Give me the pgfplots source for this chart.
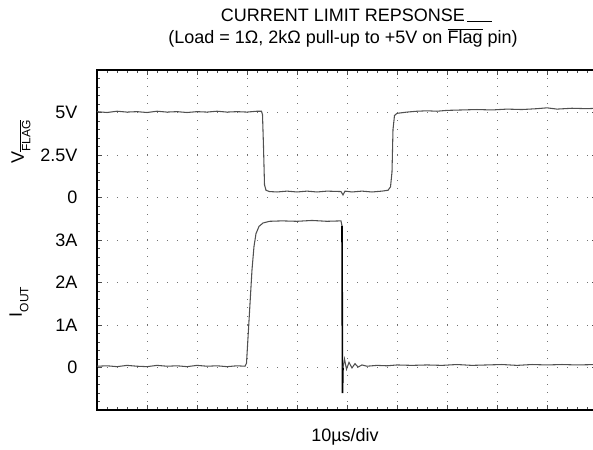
\documentclass[border=0pt]{standalone}
\usepackage{pgfplots}
\pgfplotsset{compat=1.18}
\usepackage{fontspec}
\setmainfont{Liberation Sans}

% scope traces in divisions: x 0..10, y 0..8
% V_FLAG: 0 V at div 5, 2.5 V per div ; I_OUT: 0 A at div 1, 1 A per div
\definecolor{trace}{HTML}{505050}

\begin{document}
\begin{tikzpicture}[font=\fontsize{13.5}{16}\selectfont]
\begin{axis}[
    at={(0,0)}, anchor=south west,
    scale only axis,
    width=375pt, height=255pt,
    xmin=0, xmax=10, ymin=0, ymax=8,
    xtick={0,...,10}, ytick={0,...,8},
    xticklabels={},
    yticklabels={,0,1A,2A,3A,0,2.5V,5V,},
    yticklabel style={anchor=east, inner sep=0pt, xshift=-14.5pt},
    minor x tick num=4, minor y tick num=4,
    tick align=inside,
    major tick length=3.5pt, minor tick length=2.2pt,
    tick style={black!70, line width=0.5pt},
    grid=major,
    x grid style={black!55, line width=0.6pt, dash pattern=on 0.6pt off 5.775pt},
    y grid style={black!55, line width=0.6pt, dash pattern=on 0.6pt off 6.9pt},
    axis line style={line width=1.6pt},
]
% V_FLAG
\addplot[trace, line width=0.8pt] coordinates {
    (0,7.02) (0.2,7.00) (0.4,7.03) (0.6,7.01) (0.8,7.02) (1.0,7.00) (1.2,7.03)
    (1.4,7.01) (1.6,7.02) (1.8,7.00) (2.0,7.02) (2.2,7.01) (2.4,7.03) (2.6,7.01)
    (2.8,7.02) (3.0,7.01) (3.2,7.03) (3.29,7.03) (3.31,6.95) (3.33,6.2)
    (3.35,5.3) (3.38,5.17) (3.45,5.14) (3.6,5.13) (3.8,5.15) (4.0,5.13)
    (4.2,5.15) (4.4,5.13) (4.6,5.15) (4.88,5.14) (4.92,5.06) (4.96,5.15)
    (5.1,5.13) (5.3,5.15) (5.5,5.13) (5.7,5.15) (5.82,5.17) (5.87,5.25)
    (5.9,5.6) (5.92,6.6) (5.95,6.93) (6.0,6.98) (6.2,7.01) (6.4,7.03)
    (6.6,7.04) (6.8,7.03) (7.0,7.05) (7.3,7.06) (7.6,7.07) (7.9,7.06)
    (8.2,7.08) (8.5,7.07) (8.8,7.09) (9.0,7.11) (9.2,7.08) (9.5,7.10)
    (9.8,7.09) (10,7.10)
};
% I_OUT
\addplot[trace, line width=0.8pt] coordinates {
    (0,1.03) (0.2,1.04) (0.4,1.02) (0.6,1.05) (0.8,1.03) (1.0,1.02) (1.2,1.05)
    (1.4,1.03) (1.6,1.04) (1.8,1.02) (2.0,1.05) (2.2,1.03) (2.4,1.04)
    (2.6,1.02) (2.8,1.04) (2.96,1.03) (2.99,1.10) (3.02,1.7) (3.06,2.5)
    (3.1,3.3) (3.14,3.85) (3.18,4.15) (3.24,4.32) (3.32,4.40) (3.45,4.44)
    (3.7,4.45) (4.0,4.44) (4.3,4.46) (4.6,4.44) (4.88,4.45) (4.90,4.33)
};
\addplot[black, line width=1.2pt] coordinates {
    (4.90,4.33) (4.91,0.40) (4.92,1.00)
};
\addplot[trace, line width=0.8pt] coordinates {
    (4.92,1.00) (4.95,1.20) (4.99,0.96) (5.04,1.12) (5.1,0.99) (5.16,1.09)
    (5.22,1.01) (5.3,1.06) (5.4,1.03) (5.6,1.05) (5.8,1.04) (6.0,1.06)
    (6.3,1.05) (6.6,1.06) (6.9,1.05) (7.2,1.07) (7.5,1.05) (7.8,1.06)
    (8.1,1.07) (8.4,1.05) (8.7,1.07) (9.0,1.06) (9.3,1.07) (9.6,1.06) (10,1.07)
};
\end{axis}
% titles and labels
\node at (184.5pt,296pt) {CURRENT LIMIT REPSONSE\rlap{\hspace{1.5pt}\rule[-0.6pt]{18.5pt}{0.7pt}}};
\node at (184.5pt,279pt) {(Load = 1Ω, 2kΩ pull-up to +5V on $\overline{\mbox{Flag}}$ pin)};
\node[rotate=90] at (-57pt,201pt) {V\raisebox{-0.35em}{\fontsize{9}{10}\selectfont$\overline{\mbox{FLAG}}$}};
\node[rotate=90] at (-58.5pt,81pt) {I\raisebox{-0.35em}{\fontsize{9}{10}\selectfont OUT}};
\node at (186pt,-20.5pt) {10µs/div};
\pgfresetboundingbox
\path[use as bounding box] (-72.75pt,-30pt) rectangle (372pt,307.5pt);
\end{tikzpicture}
\end{document}
